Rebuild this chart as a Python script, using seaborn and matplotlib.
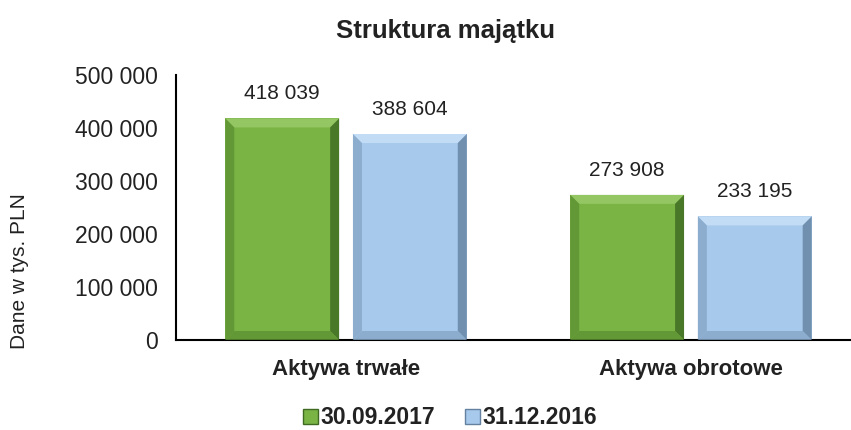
import matplotlib
matplotlib.use("Agg")
import matplotlib.pyplot as plt
import seaborn as sns
import pandas as pd
from matplotlib.patches import Polygon, Patch
from matplotlib.transforms import IdentityTransform
from matplotlib.ticker import FuncFormatter

categories = ["Aktywa trwałe", "Aktywa obrotowe"]
series_names = ["30.09.2017", "31.12.2016"]
values_2017 = [418039, 273908]
values_2016 = [388604, 233195]
yticks = [0, 100000, 200000, 300000, 400000, 500000]

title = "Struktura majątku"
ylabel = "Dane w tys. PLN"

colors = {"30.09.2017": "#79B445", "31.12.2016": "#A6C9EC"}
light = {"30.09.2017": "#9CCB6C", "31.12.2016": "#CBE2F8"}
dark = {"30.09.2017": "#3F6A22", "31.12.2016": "#64819F"}
mid = {"30.09.2017": "#5E9233", "31.12.2016": "#86A6C6"}

df = pd.DataFrame({
    "cat": categories * 2,
    "series": [series_names[0]] * 2 + [series_names[1]] * 2,
    "val": values_2017 + values_2016,
})

sns.set_style("white")
plt.rcParams["font.family"] = ["Liberation Sans", "DejaVu Sans"]

fig = plt.figure(figsize=(8.51, 4.30), dpi=100)
ax = fig.add_axes([176 / 851, 90 / 430, 1 - 176 / 851, 265 / 430])

sns.barplot(data=df, x="cat", y="val", hue="series", order=categories,
            hue_order=series_names, palette=colors, width=0.74, gap=0.108,
            saturation=1, legend=False, ax=ax, linewidth=0)

ax.set_xlim(-0.493, 1.464)
ax.set_ylim(0, 500000)
ax.set_yticks(yticks)
ax.yaxis.set_major_formatter(FuncFormatter(lambda v, p: f"{int(v):,}".replace(",", " ")))
ax.tick_params(axis="y", labelsize=16.5, pad=13, length=0, colors="#222222")
ax.tick_params(axis="x", labelsize=16, pad=14, length=0)
for lab in ax.get_xticklabels():
    lab.set_fontweight("bold")
    lab.set_color("#222222")
ax.set_xlabel("")
ax.set_ylabel("")
for s in ["top", "right"]:
    ax.spines[s].set_visible(False)
for s in ["left", "bottom"]:
    ax.spines[s].set_color("black")
    ax.spines[s].set_linewidth(1.5)

# value labels
for cont in ax.containers:
    ax.bar_label(cont, labels=[f"{int(v):,}".replace(",", " ") for v in cont.datavalues],
                 padding=11, fontsize=15, color="#222222")

# bevel effect derived from drawn bars
fig.canvas.draw()
for cont, name in zip(ax.containers, series_names):
    for bar in cont.patches:
        bb = bar.get_window_extent()
        x0, y0, x1, y1 = bb.x0, bb.y0, bb.x1, bb.y1
        b = 9
        polys = [
            ([(x0, y1), (x1, y1), (x1 - b, y1 - b), (x0 + b, y1 - b)], light[name]),
            ([(x1, y1), (x1, y0), (x1 - b, y0 + b), (x1 - b, y1 - b)], dark[name]),
            ([(x0, y0), (x1, y0), (x1 - b, y0 + b), (x0 + b, y0 + b)], mid[name]),
            ([(x0, y1), (x0, y0), (x0 + b, y0 + b), (x0 + b, y1 - b)], mid[name]),
        ]
        for pts, c in polys:
            poly = Polygon(pts, closed=True, facecolor=c, edgecolor="none",
                           transform=IdentityTransform(), alpha=0.8)
            fig.artists.append(poly)
            poly.set_figure(fig)

fig.text(445 / 851, 1 - 38 / 430, title, ha="center", va="baseline",
         fontsize=18.5, fontweight="bold", color="#222222")
fig.text(20 / 851, 1 - 271 / 430, ylabel, rotation=90, ha="center", va="center",
         fontsize=15, color="#222222")

handles = [Patch(facecolor=colors[n], edgecolor=dark[n], label=n) for n in series_names]
leg = fig.legend(handles=handles, loc="center", bbox_to_anchor=(450 / 851, 1 - 418 / 430),
                 ncol=2, frameon=False, handlelength=0.65, handleheight=0.65,
                 handletextpad=0.1, columnspacing=1.3, borderpad=0,
                 prop={"weight": "bold", "size": 16.5})
for t in leg.get_texts():
    t.set_color("#222222")

fig.savefig("out.png", dpi=100)
